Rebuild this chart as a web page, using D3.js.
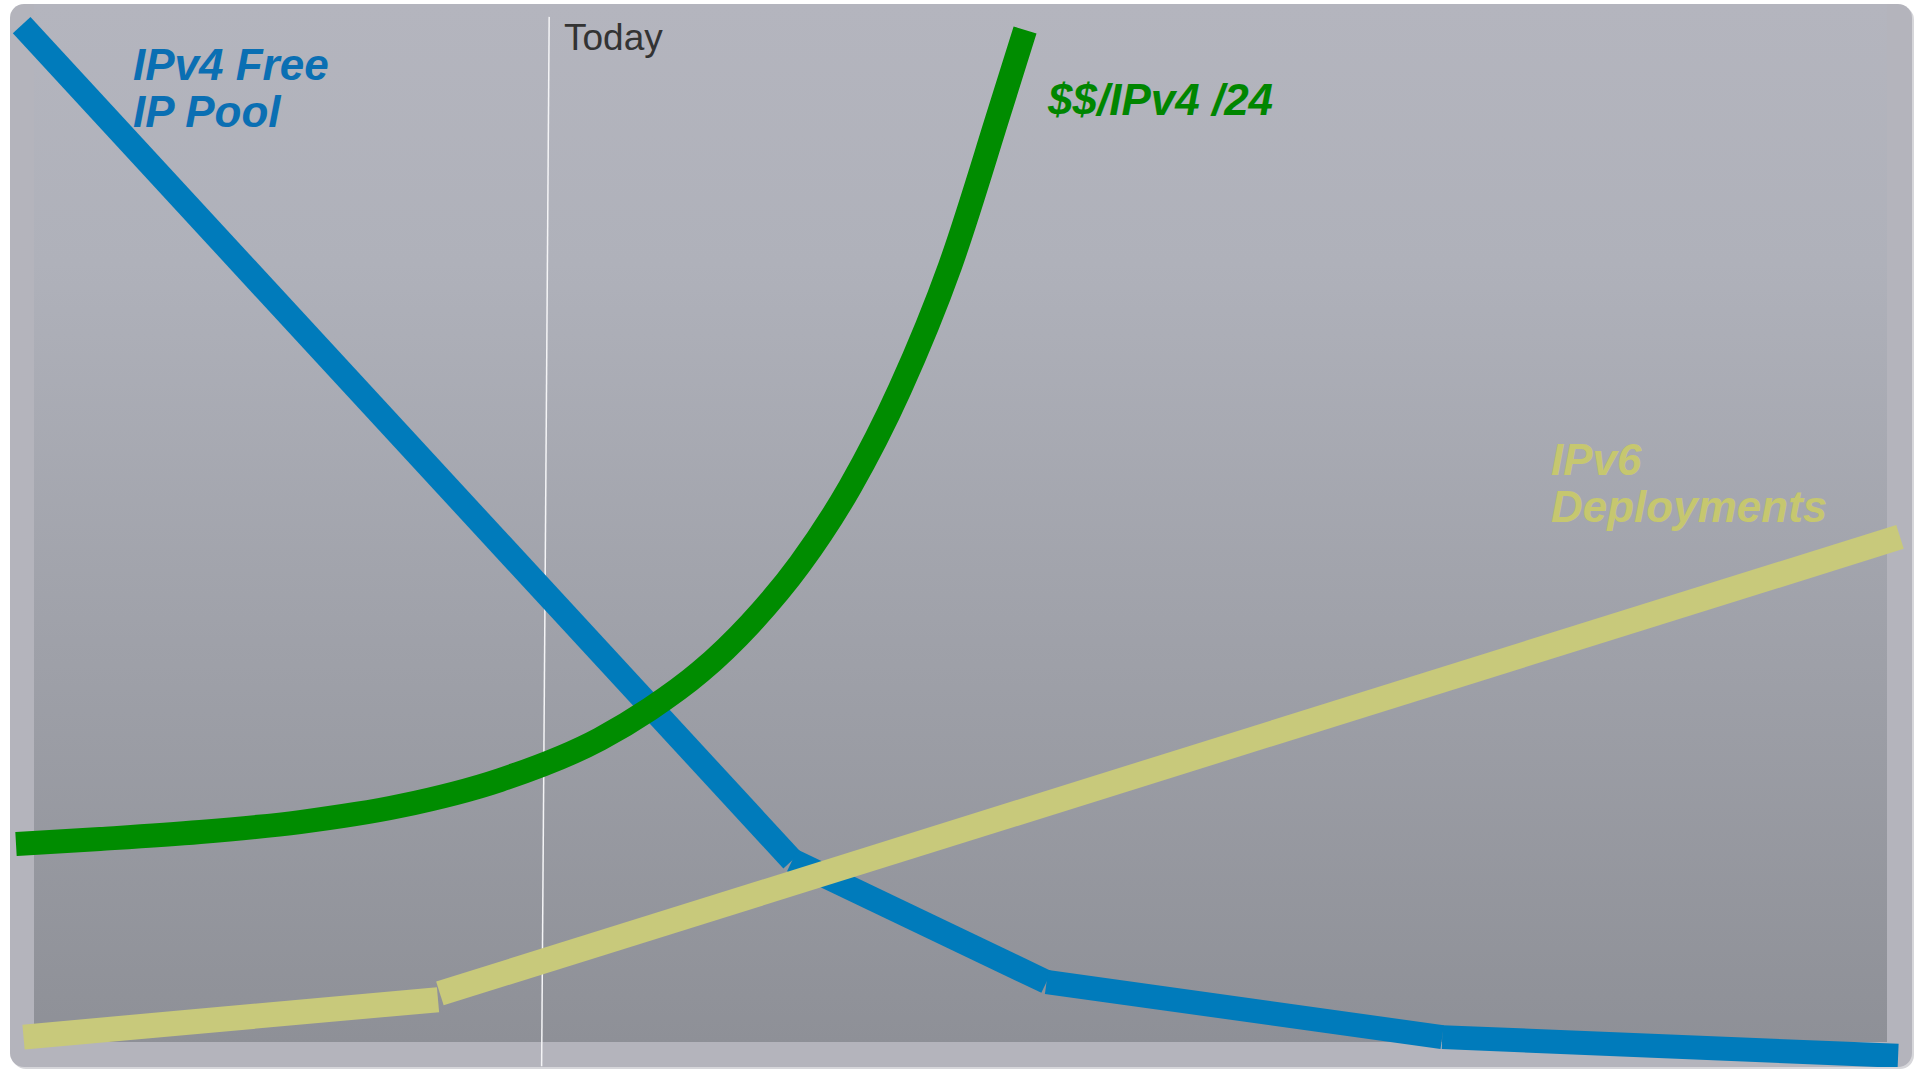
<!DOCTYPE html>
<html>
<head>
<meta charset="utf-8">
<script src="https://cdn.jsdelivr.net/npm/d3@7"></script>
<style>
  html, body { margin: 0; padding: 0; background: #fff; }
  svg { display: block; }
  text { font-family: "Liberation Sans", Arial, sans-serif; }
</style>
</head>
<body>
<div id="plot"></div>
<script>
// time runs 0..100 left to right, level 0..100 bottom to top
var ipv4PoolTime = [0.3, 41.2, 54.7, 75.7, 99.9];
var ipv4PoolLevel = [99.5, 19.2, 7.5, 2.2, 0.4];

var priceTime = [0, 4.46, 9.77, 15.07, 20.38, 25.69, 31.0, 33.65, 36.31, 38.96, 41.61, 44.27, 46.92, 49.58, 52.23, 53.56];
var priceLevel = [20.77, 21.25, 21.92, 22.88, 24.42, 26.92, 30.87, 33.75, 37.31, 41.92, 47.69, 55.1, 64.52, 76.35, 91.35, 99.04];

var ipv6EarlyTime = [0.4, 22.4];
var ipv6EarlyLevel = [2.2, 5.8];
var ipv6LateTime = [22.5, 100];
var ipv6LateLevel = [6.4, 50.3];

var todayTime = [28.3, 27.9];
var todayLevel = [100.3, -0.6];

var poolLabel = ["IPv4 Free", "IP Pool"];
var priceLabel = ["$$/IPv4 /24"];
var ipv6Label = ["IPv6", "Deployments"];
var todayLabel = "Today";

var width = 1914;
var height = 1069;

var x = d3.scaleLinear().domain([0, 100]).range([16, 1900]);
var y = d3.scaleLinear().domain([0, 100]).range([1060, 20]);

var svg = d3.select("#plot")
  .append("svg")
  .attr("width", width)
  .attr("height", height);

var defs = svg.append("defs");
var grad = defs.append("linearGradient")
  .attr("id", "bg")
  .attr("x1", 0).attr("y1", 0).attr("x2", 0).attr("y2", 1);
grad.append("stop").attr("offset", "0%").attr("stop-color", "#b4b5be");
grad.append("stop").attr("offset", "25%").attr("stop-color", "#afb1ba");
grad.append("stop").attr("offset", "100%").attr("stop-color", "#8e9097");

defs.append("clipPath").attr("id", "frame")
  .append("rect")
  .attr("x", 10).attr("y", 4)
  .attr("width", 1902).attr("height", 1063)
  .attr("rx", 14);

// frame
svg.append("rect")
  .attr("x", 12).attr("y", 6)
  .attr("width", 1902).attr("height", 1063)
  .attr("rx", 14)
  .attr("fill", "#d6d6da");

svg.append("rect")
  .attr("x", 10).attr("y", 4)
  .attr("width", 1902).attr("height", 1063)
  .attr("rx", 14)
  .attr("fill", "#b4b4bc");

svg.append("rect")
  .attr("x", 34).attr("y", 4)
  .attr("width", 1853).attr("height", 1038)
  .attr("fill", "url(#bg)");

var chart = svg.append("g").attr("clip-path", "url(#frame)");

var line = d3.line()
  .x(function (d) { return x(d[0]); })
  .y(function (d) { return y(d[1]); });

var smooth = d3.line()
  .x(function (d) { return x(d[0]); })
  .y(function (d) { return y(d[1]); })
  .curve(d3.curveMonotoneX);

var zip = function (xs, ys) { return xs.map(function (v, i) { return [v, ys[i]]; }); };

// today marker
chart.append("path")
  .datum(zip(todayTime, todayLevel))
  .attr("d", line)
  .attr("stroke", "#f4f4f6")
  .attr("stroke-width", 1.5)
  .attr("fill", "none");

// IPv4 free pool, drawn piece by piece
var pool = zip(ipv4PoolTime, ipv4PoolLevel);
chart.selectAll(".pool")
  .data(d3.pairs(pool))
  .enter()
  .append("path")
  .attr("class", "pool")
  .attr("d", line)
  .attr("stroke", "#007bbb")
  .attr("stroke-width", 24)
  .attr("fill", "none");

// IPv6 deployments
chart.selectAll(".ipv6")
  .data([zip(ipv6EarlyTime, ipv6EarlyLevel), zip(ipv6LateTime, ipv6LateLevel)])
  .enter()
  .append("path")
  .attr("class", "ipv6")
  .attr("d", line)
  .attr("stroke", "#c8c97b")
  .attr("stroke-width", 25)
  .attr("fill", "none");

// price per /24
chart.append("path")
  .datum(zip(priceTime, priceLevel))
  .attr("d", smooth)
  .attr("stroke", "#008c00")
  .attr("stroke-width", 24)
  .attr("fill", "none");

// labels
var label = function (lines, px, py, step, color) {
  var t = svg.append("text")
    .attr("fill", color)
    .attr("font-size", 44)
    .attr("font-weight", "bold")
    .attr("font-style", "italic");
  t.selectAll("tspan")
    .data(lines)
    .enter()
    .append("tspan")
    .attr("x", px)
    .attr("y", function (d, i) { return py + i * step; })
    .text(function (d) { return d; });
};

label(poolLabel, 133, 80, 47, "#0a6fb3");
label(priceLabel, 1048, 115, 47, "#008600");
label(ipv6Label, 1551, 475, 47, "#c6c76f");

svg.append("text")
  .attr("x", 564)
  .attr("y", 50)
  .attr("font-size", 37)
  .attr("fill", "#333")
  .text(todayLabel);
</script>
</body>
</html>
